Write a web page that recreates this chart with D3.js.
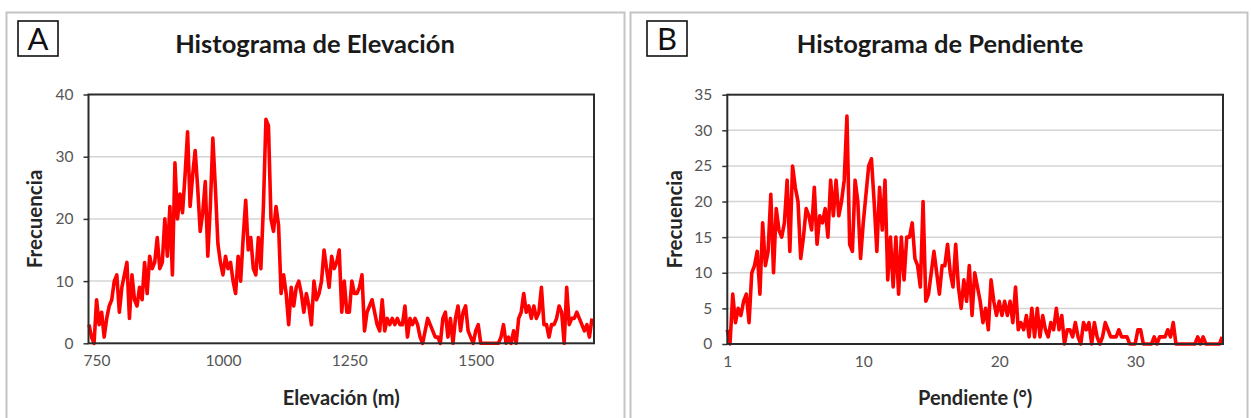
<!DOCTYPE html>
<html>
<head>
<meta charset="utf-8">
<script src="https://cdn.jsdelivr.net/npm/d3@7"></script>
<style>
  html, body { margin: 0; padding: 0; background: #fff; }
  svg { display: block; }
  text { font-family: Lato, "Liberation Sans", "DejaVu Sans", sans-serif; }
</style>
</head>
<body>
<svg id="chart" width="1251" height="418"></svg>
<script>
// Elevation histogram: 5 m bins starting at 735 m
const elevStart = 735;
const elevStep = 5;
const elevFreq = [
  3, 1, 0, 7, 3, 5, 1, 4, 6, 7,
  10, 11, 5, 9, 11, 13, 4, 11, 7, 6,
  9, 7, 13, 8, 14, 12, 13, 17, 12, 13,
  20, 14, 22, 11, 29, 20, 24, 21, 27, 34,
  22, 27, 31, 25, 18, 21, 26, 14, 22, 33,
  25, 16, 13, 11, 14, 12, 13, 10, 8, 14,
  10, 17, 23, 15, 17, 12, 11, 17, 12, 22,
  36, 35, 20, 18, 22, 19, 8, 11, 8, 3,
  9, 6, 9, 10, 8, 5, 8, 6, 3, 10,
  7, 8, 10, 15, 12, 9, 14, 12, 13, 15,
  5, 10, 5, 5, 10, 8, 8, 9, 11, 2,
  5, 6, 7, 5, 3, 2, 7, 2, 4, 3,
  4, 3, 4, 3, 3, 6, 1, 4, 3, 4,
  3, 1, 0, 2, 4, 3, 2, 1, 1, 0,
  4, 5, 1, 4, 0, 4, 6, 2, 5, 6,
  2, 1, 0, 2, 3, 0, 0, 0, 0, 0,
  0, 0, 0, 1, 3, 0, 1, 0, 2, 0,
  4, 5, 8, 5, 6, 4, 6, 4, 5, 9,
  3, 3, 1, 3, 3, 4, 6, 5, 0, 9,
  3, 4, 4, 5, 4, 3, 2, 3, 1, 4
];
const elevTicks = [750, 1000, 1250, 1500];
const elevYTicks = [0, 10, 20, 30, 40];

// Slope histogram: 0.2 degree bins
const slopeStart = 0;
const slopeStep = 0.2;
const slopeFreq = [
  2, 0, 7, 3, 5, 4, 6, 7, 3, 10,
  11, 13, 7, 17, 11, 13, 21, 10, 19, 16,
  15, 17, 23, 13, 25, 22, 20, 12, 15, 19,
  18, 16, 22, 14, 18, 17, 19, 15, 23, 18,
  23, 18, 20, 23, 32, 14, 13, 23, 20, 12,
  17, 21, 25, 26, 20, 13, 22, 16, 23, 9,
  15, 8, 15, 7, 15, 9, 15, 15, 17, 12,
  11, 8, 20, 6, 7, 10, 13, 10, 7, 11,
  11, 14, 10, 8, 14, 8, 5, 9, 6, 11,
  4, 10, 8, 6, 3, 5, 2, 9, 6, 4,
  6, 4, 6, 4, 6, 3, 8, 2, 3, 2,
  4, 1, 5, 1, 5, 1, 4, 2, 1, 3,
  2, 5, 2, 4, 0, 2, 2, 1, 3, 1,
  0, 3, 2, 3, 0, 3, 1, 0, 1, 3,
  2, 1, 1, 1, 2, 1, 1, 1, 0, 0,
  0, 2, 2, 0, 0, 0, 0, 1, 0, 1,
  1, 1, 2, 1, 3, 0, 0, 0, 0, 0,
  0, 0, 0, 1, 0, 1, 0, 0, 0, 0,
  0, 0, 1
];
const slopeTicks = [0, 10, 20, 30];
const slopeTickLabels = ["1", "10", "20", "30"];
const slopeYTicks = [0, 5, 10, 15, 20, 25, 30, 35];

const svg = d3.select("#chart");

function drawPanel(p) {
  const g = svg.append("g");

  // outer panel frame
  g.append("rect")
    .attr("x", p.frame[0]).attr("y", p.frame[1])
    .attr("width", p.frame[2]).attr("height", p.frame[3])
    .attr("fill", "#fff").attr("stroke", "#c4c4c4").attr("stroke-width", 2);

  // panel letter badge
  g.append("rect")
    .attr("x", p.badge[0]).attr("y", p.badge[1])
    .attr("width", 40).attr("height", 35)
    .attr("fill", "#fff").attr("stroke", "#111").attr("stroke-width", 1.6);
  g.append("text")
    .attr("x", p.badge[0] + 20).attr("y", p.badge[1] + 29)
    .attr("text-anchor", "middle")
    .attr("font-size", 31).attr("fill", "#111")
    .text(p.letter);

  // title
  g.append("text")
    .attr("x", p.titleX).attr("y", 53)
    .attr("text-anchor", "middle")
    .attr("font-size", 25.5).attr("font-weight", "bold").attr("fill", "#1a1a1a")
    .text(p.title);

  const x = d3.scaleLinear().domain(p.xDomain).range([p.left, p.right]);
  const y = d3.scaleLinear().domain(p.yDomain).range([p.bottom, p.top]);

  // horizontal gridlines
  g.append("g")
    .selectAll("line")
    .data(p.yTicks.filter(v => v > p.yDomain[0] && v < p.yDomain[1]))
    .join("line")
    .attr("x1", p.left).attr("x2", p.right)
    .attr("y1", d => y(d)).attr("y2", d => y(d))
    .attr("stroke", "#d4d4d4").attr("stroke-width", 1.5);

  // y axis
  const yAxis = g.append("g")
    .attr("transform", `translate(${p.left},0)`)
    .call(d3.axisLeft(y).tickValues(p.yTicks).tickSize(5).tickPadding(10).tickFormat(d3.format("d")));
  yAxis.select(".domain").remove();
  yAxis.selectAll(".tick line").attr("stroke", "#333").attr("stroke-width", 1.5);
  yAxis.selectAll(".tick text")
    .attr("font-size", 15.5).attr("fill", "#555")
    .style("font-family", "Lato, 'Liberation Sans', sans-serif");

  // x axis labels
  const xAxis = g.append("g")
    .attr("transform", `translate(0,${p.bottom})`)
    .call(d3.axisBottom(x).tickValues(p.xTicks).tickSize(0).tickPadding(12)
      .tickFormat((d, i) => p.xTickLabels[i]));
  xAxis.select(".domain").remove();
  xAxis.selectAll(".tick text")
    .attr("font-size", 15.5).attr("fill", "#555")
    .style("font-family", "Lato, 'Liberation Sans', sans-serif");

  // histogram frequency line
  const line = d3.line()
    .x((d, i) => x(p.start + i * p.step))
    .y(d => y(d));
  g.append("path")
    .datum(p.freq)
    .attr("d", line)
    .attr("fill", "none")
    .attr("stroke", "#ff0000")
    .attr("stroke-width", 3.6)
    .attr("stroke-linejoin", "round");

  // plot area border
  g.append("rect")
    .attr("x", p.left).attr("y", p.top)
    .attr("width", p.right - p.left).attr("height", p.bottom - p.top)
    .attr("fill", "none").attr("stroke", "#2b2b2b").attr("stroke-width", 2);

  // axis titles
  g.append("text")
    .attr("transform", `translate(${p.yLabelX},${(p.top + p.bottom) / 2}) rotate(-90)`)
    .attr("text-anchor", "middle").attr("dy", "0.35em")
    .attr("font-size", 20.5).attr("font-weight", "bold").attr("fill", "#262626")
    .text("Frecuencia");
  g.append("text")
    .attr("x", (p.left + p.right) / 2).attr("y", 405)
    .attr("text-anchor", "middle")
    .attr("font-size", 20).attr("font-weight", "bold").attr("fill", "#262626")
    .text(p.xLabel);
}

drawPanel({
  frame: [6.5, 12.5, 618, 440],
  badge: [18, 21],
  letter: "A",
  title: "Histograma de Elevación",
  titleX: 315,
  left: 88.5, right: 594, top: 94.5, bottom: 343.3,
  xDomain: [734, 1734],
  yDomain: [0, 40],
  xTicks: elevTicks,
  xTickLabels: elevTicks.map(String),
  yTicks: elevYTicks,
  start: elevStart, step: elevStep, freq: elevFreq,
  yLabelX: 35,
  xLabel: "Elevación (m)"
});

drawPanel({
  frame: [630.5, 12.5, 617, 440],
  badge: [647, 21],
  letter: "B",
  title: "Histograma de Pendiente",
  titleX: 940,
  left: 727.3, right: 1223, top: 94.7, bottom: 344,
  xDomain: [0, 36.46],
  yDomain: [0, 35],
  xTicks: slopeTicks,
  xTickLabels: slopeTickLabels,
  yTicks: slopeYTicks,
  start: slopeStart, step: slopeStep, freq: slopeFreq,
  yLabelX: 675,
  xLabel: "Pendiente (°)"
});
</script>
</body>
</html>
